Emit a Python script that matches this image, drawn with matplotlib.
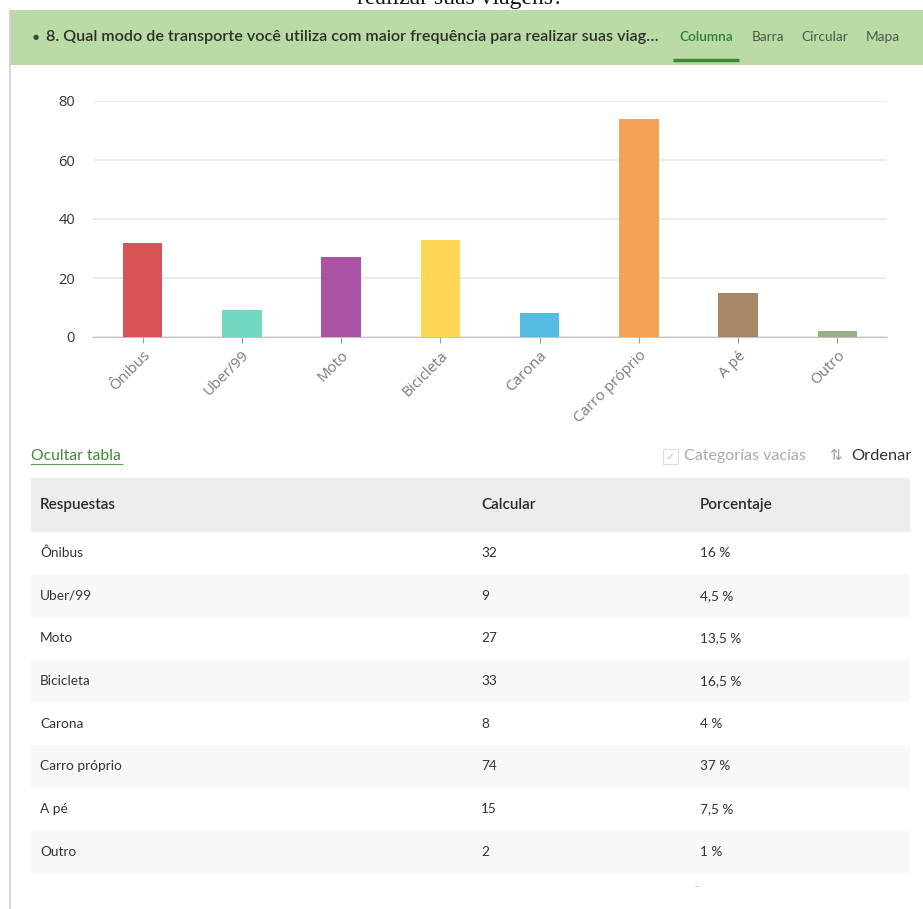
import matplotlib.pyplot as plt
from matplotlib.patches import Rectangle

categorias = ['Ônibus', 'Uber/99', 'Moto', 'Bicicleta', 'Carona', 'Carro próprio', 'A pé', 'Outro']
contagem = [32, 9, 27, 33, 8, 74, 15, 2]
porcentagem = ['16 %', '4,5 %', '13,5 %', '16,5 %', '4 %', '37 %', '7,5 %', '1 %']
cores = ['#d64a4e', '#6bd6bd', '#a64aa0', '#ffd54b', '#4cb9e0', '#f49d4c', '#a0805f', '#8eae7f']
y_ticks = [0, 20, 40, 60, 80]

W, H = 923, 909
fig = plt.figure(figsize=(W / 100, H / 100), dpi=100)

# fundo em coordenadas de pixel
bg = fig.add_axes([0, 0, 1, 1])
bg.set_xlim(0, W)
bg.set_ylim(H, 0)
bg.axis('off')

# titulo cortado no topo
bg.text(460, 4, 'realizar suas viagens?', ha='center', va='baseline',
        fontsize=17, family='Liberation Serif', color='#111111')

# faixa verde do cabecalho
bg.add_patch(Rectangle((10, 10), W - 10, 55, color='#badaa6', lw=0))
bg.plot([10, 10], [10, H], color='#cfcfcf', lw=1.2)
bg.text(33, 37, '\u25cf', fontsize=5, va='center', color='#444444')
bg.text(46, 37, '8. Qual modo de transporte você utiliza com maior frequência para realizar suas viag\u2026',
        fontsize=11.6, va='center', color='#2d2d2d', family='Lato', weight='semibold')
bg.text(679, 37, 'Columna', fontsize=9.8, va='center', color='#2f7f2a', family='Lato', weight='semibold')
bg.plot([673, 739], [60, 60], color='#3c8a34', lw=2.5, solid_capstyle='butt')
for xx, lab in zip([752, 801, 866], ['Barra', 'Circular', 'Mapa']):
    bg.text(xx, 37, lab, fontsize=9.8, va='center', color='#4c5a48', family='Lato')

# grafico de colunas
ax = fig.add_axes([93 / W, 1 - 337 / H, 794 / W, 236 / H])
x = list(range(len(categorias)))
ax.bar(x, contagem, width=0.4, color=cores, alpha=0.95, zorder=3)
ax.set_xlim(-0.5, len(categorias) - 0.5)
ax.set_ylim(0, 80)
ax.set_yticks(y_ticks)
ax.yaxis.grid(True, color='#e8e8e8', lw=1.2, zorder=0)
for s in ['top', 'right', 'left']:
    ax.spines[s].set_visible(False)
ax.spines['bottom'].set_color('#c4c4c4')
ax.tick_params(axis='y', length=0, pad=13, labelsize=10.5, labelcolor='#333333')
ax.tick_params(axis='x', length=4, color='#999999', pad=4, labelsize=10.8, labelcolor='#7a7a7a')
ax.set_xticks(x)
ax.set_xticklabels(categorias, rotation=45, ha='right', rotation_mode='anchor', family='Open Sans')
for lab in ax.get_yticklabels():
    lab.set_family('Open Sans')

# controles da tabela
bg.text(31, 456, 'Ocultar tabla', fontsize=11.3, va='center', color='#3c8a34', family='Lato')
bg.plot([31, 122], [464, 464], color='#5a9a50', lw=0.8)
bg.add_patch(Rectangle((663, 449), 15, 15, fill=False, ec='#dddddd', lw=0.8))
bg.text(670.5, 457, '\u2713', fontsize=8, ha='center', va='center', color='#c8c8c8', family='DejaVu Sans')
bg.text(684, 456, 'Categorías vacías', fontsize=11.5, va='center', color='#aaaaaa', family='Lato')
bg.text(829, 456, '\u21c5', fontsize=11, va='center', color='#9aa0a8', family='DejaVu Sans')
bg.text(851, 456, 'Ordenar', fontsize=11.8, va='center', color='#333333', family='Lato')

# tabela
col_x = [40, 481, 700]
bg.add_patch(Rectangle((31, 478), 879, 54, color='#ecedf0', lw=0))
for xx, lab in zip(col_x, ['Respuestas', 'Calcular', 'Porcentaje']):
    bg.text(xx, 505, lab, fontsize=11, va='center', color='#2a2a2a', family='Lato', weight='semibold')

row_h = 42.7
for i, (cat, n, p) in enumerate(zip(categorias, contagem, porcentagem)):
    yc = 553 + i * row_h
    if i % 2 == 1:
        bg.add_patch(Rectangle((31, yc - row_h / 2), 879, row_h, color='#f7f8f8', lw=0))
    for xx, val in zip(col_x, [cat, str(n), p]):
        bg.text(xx, yc, val, fontsize=9.8, va='center', color='#333333', family='Lato')

bg.text(697, 887, '\u2013', fontsize=6, ha='center', va='center', color='#bbbbbb')

fig.savefig('out.png', dpi=100)
